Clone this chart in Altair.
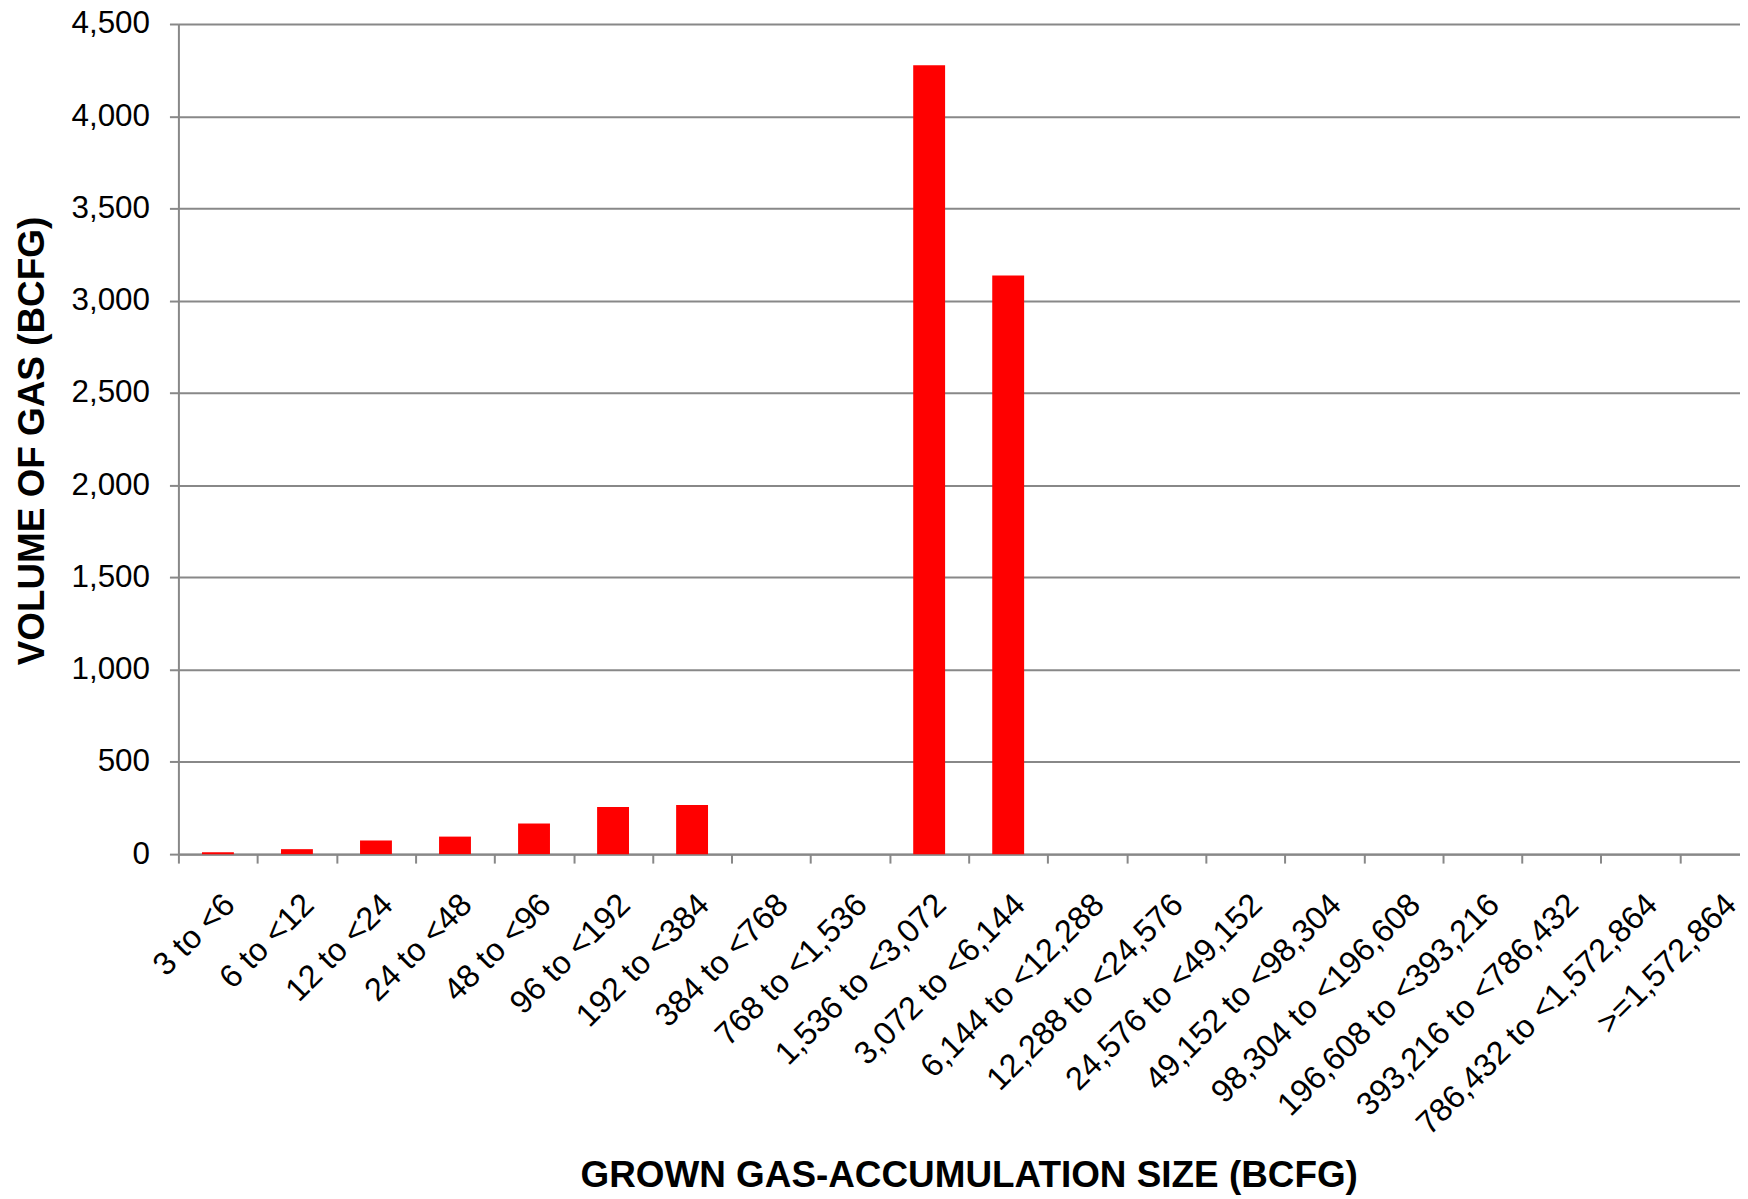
import altair as alt
import pandas as pd

categories = [
    "3 to <6", "6 to <12", "12 to <24", "24 to <48", "48 to <96",
    "96 to <192", "192 to <384", "384 to <768", "768 to <1,536",
    "1,536 to <3,072", "3,072 to <6,144", "6,144 to <12,288",
    "12,288 to <24,576", "24,576 to <49,152", "49,152 to <98,304",
    "98,304 to <196,608", "196,608 to <393,216", "393,216 to <786,432",
    "786,432 to <1,572,864", ">=1,572,864",
]
volumes = [10, 27, 74, 95, 166, 255, 267, 0, 0, 4277, 3137,
           0, 0, 0, 0, 0, 0, 0, 0, 0]
y_ticks = [0, 500, 1000, 1500, 2000, 2500, 3000, 3500, 4000, 4500]

df = pd.DataFrame({"size": categories, "volume": volumes})

FONT = "Liberation Sans"
GRAY = "#888888"

chart = alt.Chart(df).mark_bar(color="#FF0000", size=32).encode(
    x=alt.X(
        "size:N",
        sort=categories,
        scale=alt.Scale(range=[0, 1586], paddingInner=0, paddingOuter=0),
        axis=alt.Axis(
            title="GROWN GAS-ACCUMULATION SIZE (BCFG)",
            labelAngle=-45, labelAlign="right", labelBaseline="top",
            labelPadding=25, labelFontSize=32.5, labelFont=FONT,
            labelColor="black", labelOverlap=False, labelLimit=600,
            tickBand="extent", tickSize=9, tickColor=GRAY, tickWidth=2,
            domainColor=GRAY, domainWidth=2.5, grid=False,
            titleFont=FONT, titleFontSize=37, titleFontWeight="bold",
            titleColor="black", titleX=793, titleY=334,
            titleAlign="center", titleBaseline="alphabetic",
        ),
    ),
    y=alt.Y(
        "volume:Q",
        scale=alt.Scale(domain=[0, 4500], nice=False),
        axis=alt.Axis(
            title="VOLUME OF GAS (BCFG)", values=y_ticks, format=",.0f",
            labelFontSize=31.5, labelFont=FONT, labelColor="black",
            labelPadding=20, tickSize=9, tickColor=GRAY, tickWidth=2,
            gridColor=GRAY, gridWidth=2, domainColor=GRAY, domainWidth=2,
            titleFont=FONT, titleFontSize=37, titleFontWeight="bold",
            titleColor="black", titleX=-135, titleY=418,
            titleAlign="center", titleBaseline="alphabetic", titleAngle=270,
        ),
    ),
).properties(
    width=1567, height=833,
    autosize=alt.AutoSizeParams(type="none"),
    padding={"left": 171, "top": 14, "right": 0, "bottom": 343},
    background="white",
).configure_view(stroke=None)

chart.save("out.html", embed_options={"renderer": "svg", "actions": False})
